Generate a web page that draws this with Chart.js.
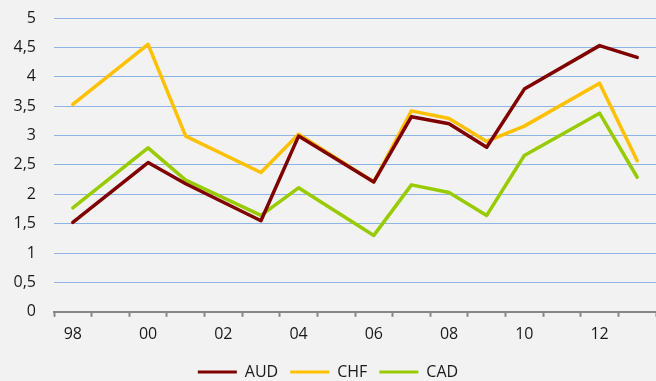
<!DOCTYPE html>
<html>
<head>
<meta charset="utf-8">
<script src="https://cdn.jsdelivr.net/npm/chart.js@4/dist/chart.umd.min.js"></script>
<style>
  html, body { margin: 0; padding: 0; background: #f2f2f2; }
  #wrap { width: 656px; height: 381px; }
</style>
</head>
<body>
<div id="wrap"><canvas id="chart"></canvas></div>
<script>
var annees = ['98', '99', '00', '01', '02', '03', '04', '05', '06', '07', '08', '09', '10', '11', '12', '13'];
// null = pas d'observation, la ligne relie les points voisins
var aud = [1.52, null, 2.54, 2.18, null, 1.55, 2.99, null, 2.21, 3.32, 3.20, 2.80, 3.79, null, 4.53, 4.33];
var chf = [3.53, null, 4.55, 2.99, null, 2.37, 3.02, null, 2.21, 3.42, 3.29, 2.90, 3.16, null, 3.89, 2.57];
var cad = [1.77, null, 2.79, 2.24, null, 1.64, 2.11, null, 1.30, 2.16, 2.03, 1.64, 2.66, null, 3.38, 2.29];

var police = { family: "'Open Sans', sans-serif", size: 16 };

function serie(label, couleur, valeurs) {
  return {
    label: label,
    data: valeurs,
    borderColor: couleur,
    backgroundColor: couleur,
    borderWidth: 3.5,
    pointRadius: 0,
    tension: 0,
    spanGaps: true,
    borderJoinStyle: 'round',
    borderCapStyle: 'round'
  };
}

Chart.defaults.color = '#1a1a1a';

new Chart(document.getElementById('chart'), {
  type: 'line',
  data: {
    labels: annees,
    datasets: [
      serie('AUD', '#800000', aud),
      serie('CHF', '#ffc000', chf),
      serie('CAD', '#99cc00', cad)
    ]
  },
  options: {
    responsive: true,
    maintainAspectRatio: false,
    animation: false,
    layout: { padding: { top: 18, right: 0, bottom: -9, left: 0 } },
    plugins: {
      tooltip: { enabled: false },
      legend: {
        position: 'bottom',
        labels: {
          font: police,
          boxWidth: 39,
          boxHeight: 3,
          padding: 12,
          color: '#1a1a1a',
          generateLabels: function(chart) {
            var items = Chart.defaults.plugins.legend.labels.generateLabels(chart);
            items.forEach(function(item) { item.lineWidth = 0; });
            return items;
          }
        }
      }
    },
    scales: {
      x: {
        offset: true,
        grid: {
          offset: true,
          drawOnChartArea: false,
          drawTicks: true,
          tickLength: 5,
          tickWidth: 2,
          tickColor: '#868686'
        },
        border: { display: true, color: '#868686', width: 2 },
        ticks: {
          autoSkip: false,
          maxRotation: 0,
          padding: 8,
          font: police,
          callback: function(value, index) {
            return index % 2 === 0 ? annees[index] : '';
          }
        }
      },
      y: {
        min: 0,
        max: 5,
        afterFit: function(scale) {
          scale.width = 54;
          scale.paddingTop = 0;
        },
        grid: { color: '#8eb4e3', lineWidth: 1, drawTicks: false },
        border: { display: false },
        ticks: {
          stepSize: 0.5,
          padding: 18,
          font: police,
          callback: function(value) { return String(value).replace('.', ','); }
        }
      }
    }
  }
});
</script>
</body>
</html>
